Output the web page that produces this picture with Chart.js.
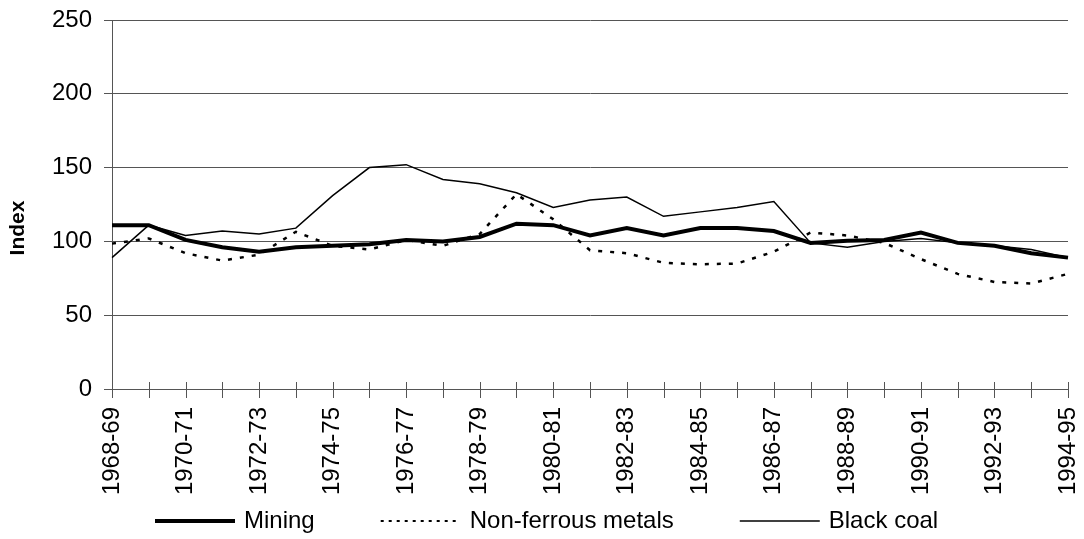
<!DOCTYPE html>
<html>
<head>
<meta charset="utf-8">
<script src="https://cdn.jsdelivr.net/npm/chart.js@4"></script>
<style>
    body { margin: 0; background: #fff; }
    #wrap { width: 1084px; height: 539px; }
</style>
</head>
<body>
<div id="wrap"><canvas id="grafico" width="1084" height="539"></canvas></div>
<script>
const anos = ['1968-69', '1969-70', '1970-71', '1971-72', '1972-73', '1973-74', '1974-75', '1975-76',
    '1976-77', '1977-78', '1978-79', '1979-80', '1980-81', '1981-82', '1982-83', '1983-84', '1984-85',
    '1985-86', '1986-87', '1987-88', '1988-89', '1989-90', '1990-91', '1991-92', '1992-93', '1993-94', '1994-95'];

const mining = [111, 111, 101, 96, 93, 96, 97, 98, 101, 100, 103, 112, 111, 104, 109, 104, 109,
    109, 107, 99, 100.5, 101, 106, 99, 97, 92, 89];
const naoFerrosos = [98.5, 102, 92, 87, 91, 106.5, 97, 94.5, 101, 97, 105, 132, 115, 94, 92, 85.5, 84.5,
    85, 93, 106, 104, 99, 88, 78, 72.5, 71.5, 78];
const carvao = [89, 111, 104, 107, 105, 109, 131, 150, 152, 142, 139, 133, 123, 128, 130, 117, 120,
    123, 127, 99, 96, 100, 102, 99, 97, 94.5, 89];

const yTicks = [0, 50, 100, 150, 200, 250];

const fonte = 'Liberation Sans, Arial, sans-serif';

// marcas do eixo x cruzando a linha, titulo do eixo y e a legenda desenhada a mao
const extras = {
    id: 'extras',
    afterDraw(chart) {
        const ctx = chart.ctx;
        const x = chart.scales.x;
        const base = chart.chartArea.bottom;
        ctx.save();
        ctx.strokeStyle = '#555';
        ctx.lineWidth = 1;
        ctx.beginPath();
        for (let i = 0; i < anos.length; i++) {
            const px = Math.round(x.getPixelForValue(i)) + 0.5;
            ctx.moveTo(px, base - 7);
            ctx.lineTo(px, base + 9);
        }
        ctx.stroke();

        ctx.fillStyle = '#000';
        ctx.font = 'bold 21px ' + fonte;
        ctx.translate(18, 228);
        ctx.rotate(-Math.PI / 2);
        ctx.textAlign = 'center';
        ctx.textBaseline = 'middle';
        ctx.fillText('Index', 0, 0);
        ctx.restore();

        // legenda
        ctx.save();
        ctx.font = '24px ' + fonte;
        ctx.textBaseline = 'middle';
        ctx.fillStyle = '#000';
        const itens = chart.data.datasets;
        let cx = 155;
        const cy = 521;
        itens.forEach(d => {
            ctx.strokeStyle = d.borderColor;
            ctx.lineWidth = d.legendWidth;
            ctx.setLineDash(d.legendDash);
            ctx.beginPath();
            ctx.moveTo(cx, cy);
            ctx.lineTo(cx + 80, cy);
            ctx.stroke();
            ctx.setLineDash([]);
            ctx.fillText(d.label, cx + 89, cy);
            cx += 89 + ctx.measureText(d.label).width + 66;
        });
        ctx.restore();
    }
};

new Chart(document.getElementById('grafico'), {
    type: 'line',
    data: {
        labels: anos,
        datasets: [{
            label: 'Mining',
            data: mining,
            borderColor: '#000',
            borderWidth: 4,
            legendWidth: 4,
            legendDash: [],
            pointRadius: 0,
            tension: 0
        }, {
            label: 'Non-ferrous metals',
            data: naoFerrosos,
            borderColor: '#000',
            borderWidth: 2.5,
            borderDash: [4, 8],
            legendWidth: 2,
            legendDash: [3, 5],
            pointRadius: 0,
            tension: 0
        }, {
            label: 'Black coal',
            data: carvao,
            borderColor: '#000',
            borderWidth: 1.5,
            legendWidth: 1.5,
            legendDash: [],
            pointRadius: 0,
            tension: 0
        }]
    },
    options: {
        responsive: false,
        animation: false,
        layout: { padding: { top: 20, right: 16, left: 0, bottom: 0 } },
        plugins: {
            legend: { display: false },
            tooltip: { enabled: false }
        },
        scales: {
            x: {
                offset: false,
                grid: { display: false },
                border: { color: '#555', width: 1 },
                ticks: {
                    autoSkip: false,
                    minRotation: 90,
                    maxRotation: 90,
                    padding: 10,
                    color: '#000',
                    font: { family: fonte, size: 24 },
                    callback: (v, i) => (i % 2 === 0 ? anos[i] : '')
                },
                afterFit: s => {
                    s.height = 150;
                    s.paddingLeft = 0;
                    s.paddingRight = 0;
                }
            },
            y: {
                min: 0,
                max: 250,
                afterBuildTicks: s => { s.ticks = yTicks.map(v => ({ value: v })); },
                grid: { color: '#555', lineWidth: 1, tickLength: 8 },
                border: { color: '#555', width: 1 },
                ticks: {
                    padding: 12,
                    color: '#000',
                    font: { family: fonte, size: 24 }
                },
                afterFit: s => {
                    s.width = 112;
                    s.paddingTop = 0;
                    s.paddingBottom = 0;
                }
            }
        }
    },
    plugins: [extras]
});
</script>
</body>
</html>
